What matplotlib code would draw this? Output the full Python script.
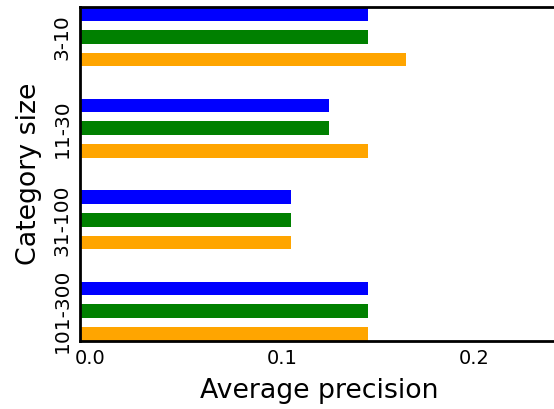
import matplotlib
matplotlib.use("Agg")
import matplotlib.pyplot as plt
import matplotlib.transforms as mtransforms
import numpy as np

categories = ["3-10", "11-30", "31-100", "101-300"]
series_blue = [0.15, 0.13, 0.11, 0.15]
series_green = [0.15, 0.13, 0.11, 0.15]
series_orange = [0.17, 0.15, 0.11, 0.15]
xticks = [0.0, 0.1, 0.2]
xtick_labels = ["0.0", "0.1", "0.2"]

W, H = 554, 409
fig = plt.figure(figsize=(W / 100, H / 100), dpi=100)
left = 79.5 / W
bottom = (H - 341) / H
top = (H - 7) / H
width = (0.25 * 1920) / W
ax = fig.add_axes([left, bottom, width, top - bottom])

y = np.arange(len(categories))
h = 0.15
ax.barh(y - 0.25, series_blue, height=h, color="blue")
ax.barh(y, series_green, height=h, color="green")
ax.barh(y + 0.25, series_orange, height=h, color="orange")

ax.set_xlim(0, 0.25)
ax.set_ylim(3 + 0.25 + h / 2, -0.25 - h / 2)

ax.set_xticks(xticks)
ax.set_xticklabels(xtick_labels, fontsize=14)
ax.set_yticks(y)
ax.set_yticklabels(categories, fontsize=14.5, rotation=90, va="center")
ax.tick_params(axis="x", length=0, pad=6)
ax.tick_params(axis="y", length=0, pad=5.5)
offset = mtransforms.ScaledTranslation(10.5 / 100, 0, fig.dpi_scale_trans)
for lbl in ax.get_xticklabels():
    lbl.set_transform(lbl.get_transform() + offset)

for s in ["left", "top", "bottom", "right"]:
    ax.spines[s].set_linewidth(2)
    ax.spines[s].set_color("black")

ax.set_xlabel("Average precision", fontsize=19.3, labelpad=7)
ax.set_ylabel("Category size", fontsize=19.3, labelpad=8)

fig.savefig("out.png", dpi=100)
